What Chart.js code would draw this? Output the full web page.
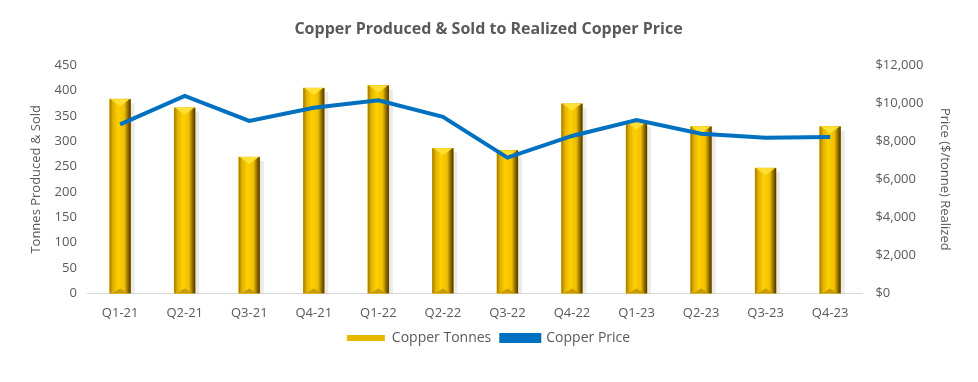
<!DOCTYPE html>
<html>
<head>
<meta charset="utf-8">
<script src="https://cdn.jsdelivr.net/npm/chart.js@4.4.1/dist/chart.umd.min.js"></script>
<style>
  html, body { margin: 0; padding: 0; background: #fff; }
  #wrap { width: 978px; height: 382px; position: relative; }
</style>
</head>
<body>
<div id="wrap"><canvas id="copperChart"></canvas></div>
<script>
// Copper produced & sold vs realized price
const quarters = ['Q1-21', 'Q2-21', 'Q3-21', 'Q4-21', 'Q1-22', 'Q2-22', 'Q3-22', 'Q4-22', 'Q1-23', 'Q2-23', 'Q3-23', 'Q4-23'];
const copperTonnes = [383, 366, 269, 405, 410, 286, 282, 374, 337, 329, 247, 329];
const copperPrice = [8890, 10380, 9070, 9760, 10150, 9280, 7140, 8280, 9120, 8400, 8190, 8230];
const tonneTicks = [0, 50, 100, 150, 200, 250, 300, 350, 400, 450];
const priceTicks = [0, 2000, 4000, 6000, 8000, 10000, 12000];

const grey = '#595959';
const tickFont = { family: 'Open Sans', size: 13 };

// redraws each bar as a gold bevelled column
const goldBars = {
    id: 'goldBars',
    afterDatasetDraw(chart, args) {
        if (args.index !== 0) return;
        const c = chart.ctx;
        args.meta.data.forEach(bar => {
            const w = bar.width, x0 = bar.x - w / 2, top = bar.y, h = bar.base - bar.y;
            const bev = 7;
            c.save();
            // soft shadow on the right
            c.fillStyle = 'rgba(0,0,0,0.08)';
            c.fillRect(x0 + w, top + 4, 4, h - 4);
            const g = c.createLinearGradient(x0, 0, x0 + w, 0);
            g.addColorStop(0, '#a07a00');
            g.addColorStop(0.15, '#e0b000');
            g.addColorStop(0.4, '#ffd000');
            g.addColorStop(0.7, '#f0bf00');
            g.addColorStop(0.85, '#9c7600');
            g.addColorStop(1, '#4a3700');
            c.fillStyle = g;
            c.fillRect(x0, top, w, h);
            // top bevel: bright downward triangle
            c.beginPath();
            c.moveTo(x0 + 1, top);
            c.lineTo(x0 + w - 1, top);
            c.lineTo(bar.x, top + bev);
            c.closePath();
            c.fillStyle = '#ffe033';
            c.fill();
            // bottom bevel: small upward triangle
            c.beginPath();
            c.moveTo(x0 + 2, bar.base);
            c.lineTo(x0 + w - 2, bar.base);
            c.lineTo(bar.x, bar.base - 5);
            c.closePath();
            c.fillStyle = '#c99b00';
            c.fill();
            c.restore();
        });
    }
};

new Chart(document.getElementById('copperChart'), {
    data: {
        labels: quarters,
        datasets: [{
            type: 'bar',
            label: 'Copper Tonnes',
            data: copperTonnes,
            yAxisID: 'y',
            backgroundColor: '#e8b800',
            borderWidth: 0,
            barThickness: 21,
            order: 1
        }, {
            type: 'line',
            label: 'Copper Price',
            data: copperPrice,
            yAxisID: 'y1',
            borderColor: '#0070C0',
            backgroundColor: '#0070C0',
            borderWidth: 4,
            pointRadius: 0,
            tension: 0,
            order: 0
        }]
    },
    options: {
        responsive: true,
        maintainAspectRatio: false,
        animation: false,
        layout: { padding: { left: 21, right: 22, top: 4, bottom: 27 } },
        plugins: {
            title: {
                display: true,
                text: 'Copper Produced & Sold to Realized Copper Price',
                color: grey,
                font: { family: 'Open Sans', size: 16, weight: 'bold' },
                padding: { top: 16, bottom: 26 }
            },
            legend: {
                position: 'bottom',
                labels: {
                    color: grey,
                    font: { family: 'Open Sans', size: 14 },
                    boxWidth: 38,
                    boxHeight: 6,
                    padding: 10,
                    sort: (a, b) => a.datasetIndex - b.datasetIndex
                }
            },
            tooltip: { enabled: false }
        },
        scales: {
            x: {
                grid: { display: false, drawTicks: false },
                border: { color: '#d9d9d9' },
                ticks: { color: grey, font: tickFont, padding: 12, maxRotation: 0 },
                // tick padding is counted on both sides; drop the unused lower half
                afterFit: axis => { axis.height -= 12; }
            },
            y: {
                position: 'left',
                min: 0,
                max: 450,
                grid: { display: false, drawTicks: false },
                border: { display: false },
                afterBuildTicks: axis => { axis.ticks = tonneTicks.map(v => ({ value: v })); },
                ticks: { color: grey, font: tickFont, padding: 11 },
                title: { display: true, text: 'Tonnes Produced & Sold', color: grey, font: { family: 'Open Sans', size: 13 }, padding: { top: 7, bottom: 0 } }
            },
            y1: {
                position: 'right',
                min: 0,
                max: 12000,
                grid: { display: false, drawTicks: false },
                border: { display: false },
                afterBuildTicks: axis => { axis.ticks = priceTicks.map(v => ({ value: v })); },
                ticks: {
                    color: grey, font: tickFont, padding: 13,
                    callback: v => '$' + v.toLocaleString('en-US')
                },
                title: { display: true, text: 'Price ($/tonne) Realized', color: grey, font: { family: 'Open Sans', size: 13 }, padding: { top: 3, bottom: 1 } }
            }
        }
    },
    plugins: [goldBars]
});
</script>
</body>
</html>
